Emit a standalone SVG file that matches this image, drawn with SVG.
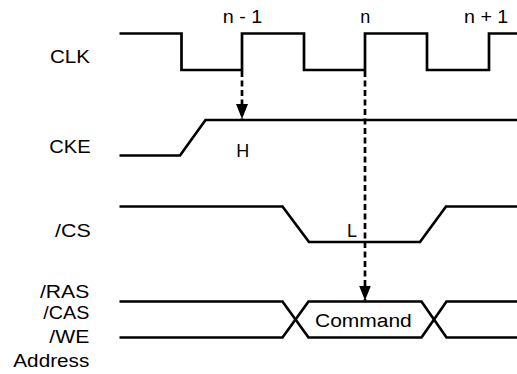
<svg xmlns="http://www.w3.org/2000/svg" width="517" height="374" viewBox="0 0 517 374">
<style>
.sig{fill:none;stroke:#000;stroke-width:2.7;stroke-linejoin:miter}
.dash{fill:none;stroke:#000;stroke-width:2.7;stroke-dasharray:6 3.5}
text{font-family:"Liberation Sans",Arial,sans-serif;font-size:18px;fill:#000}
.m{text-anchor:middle}
</style>
<defs>
<marker id="arr" markerUnits="userSpaceOnUse" markerWidth="16" markerHeight="12" refX="15" refY="6" orient="auto">
<path d="M0,0 L15,6 L0,12 z" fill="#000"/>
</marker>
</defs>
<rect width="517" height="374" fill="#fff"/>
<g id="labels">
<text x="50" y="63.3" textLength="40" lengthAdjust="spacingAndGlyphs">CLK</text>
<text x="49.3" y="153.3" textLength="41.4" lengthAdjust="spacingAndGlyphs">CKE</text>
<text x="55" y="236.7" textLength="35.7" lengthAdjust="spacingAndGlyphs">/CS</text>
<text x="40" y="298.3" textLength="49.3" lengthAdjust="spacingAndGlyphs">/RAS</text>
<text x="43.3" y="319" textLength="46" lengthAdjust="spacingAndGlyphs">/CAS</text>
<text x="49.3" y="343.3" textLength="40" lengthAdjust="spacingAndGlyphs">/WE</text>
<text x="13.3" y="367.3" textLength="76" lengthAdjust="spacingAndGlyphs">Address</text>
<text x="222.7" y="22.5" textLength="39.6" lengthAdjust="spacingAndGlyphs">n - 1</text>
<text class="m" x="365.2" y="22.5">n</text>
<text x="464" y="22.5" textLength="44.3" lengthAdjust="spacingAndGlyphs">n + 1</text>
</g>
<g id="CLK">
<path class="sig" d="M119.5,33.5 H181.5 V70 H242 V33.5 H304 V70 H365 V33.5 H427 V70 H489 V33.5 H517"/>
</g>
<g id="CKE">
<path class="sig" d="M119.5,155.5 H180 L205.5,120 H517"/>
<text class="m" x="242.8" y="156.7">H</text>
</g>
<g id="CS">
<path class="sig" d="M119.5,206.5 H282.5 L309,242 H420 L446,206.5 H517"/>
<text class="m" x="352" y="237.3">L</text>
</g>
<g id="BUS">
<path class="sig" d="M119.5,301.5 H282.5 L308.5,337.5 H421.5 L446.5,301.5 H517"/>
<path class="sig" d="M119.5,337.5 H282.5 L308.5,301.5 H421.5 L446.5,337.5 H517"/>
<text x="315" y="326.7" textLength="96.7" lengthAdjust="spacingAndGlyphs">Command</text>
</g>
<g id="connectors">
<line class="dash" x1="242" y1="71" x2="242" y2="119" marker-end="url(#arr)"/>
<line class="dash" x1="365" y1="71" x2="365" y2="300.5" marker-end="url(#arr)"/>
</g>
</svg>
